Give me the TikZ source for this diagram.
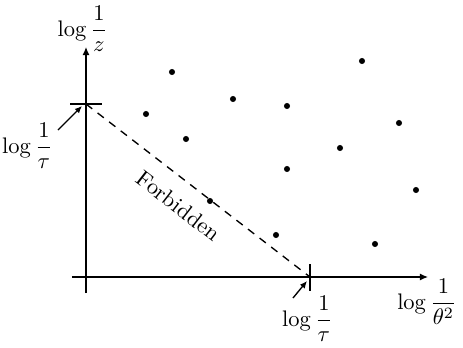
\documentclass[tikz,border=0pt]{standalone}
\usepackage{amsmath,amssymb}
\usepackage{tikz}
\usetikzlibrary{arrows.meta,positioning,calc}

\begin{document}
\begin{tikzpicture}[
  x=0.4445pt, y=0.4445pt,
  axis/.style={-{Latex[length=3.6pt,width=3.2pt]}, line width=0.6pt},
  pointer/.style={-{Latex[length=3.2pt,width=2.8pt]}, line width=0.6pt},
  tick/.style={line width=0.6pt},
  border/.style={dash pattern=on 3.5pt off 3pt, line width=0.6pt},
  pt/.style={circle, fill, inner sep=0pt, minimum size=2.7pt}
]
\useasboundingbox (-86,-70) rectangle (377,277);

% axes
\coordinate (origin) at (0,0);
\coordinate (ytop) at (0,230);
\coordinate (ybot) at (0,-16);
\coordinate (xleft) at (-14,0);
\coordinate (xright) at (342,0);
\draw[axis] (ybot) -- (ytop);
\draw[axis] (xleft) -- (xright);

% ticks at log 1/tau
\coordinate (tauy) at (0,173);
\coordinate (taux) at (224,0);
\draw[tick] ([xshift=-7]tauy) -- ([xshift=7]tauy);
\draw[tick] ([yshift=-6]taux) -- ([yshift=6]taux);

% forbidden region border
\draw[border] (tauy) -- node[pos=0.48, sloped, below=3.5pt] (forb) {Forbidden} (taux);

% axis labels
\node (zlab) at (-3.5,248) {$\log\dfrac{1}{z}$};
\node (thetalab) at (341,-25) {$\log\dfrac{1}{\theta^2}$};
\node (tauylab) at (-58.5,131) {$\log\dfrac{1}{\tau}$};
\node (tauxlab) at (221.5,-42) {$\log\dfrac{1}{\tau}$};
\coordinate (tauyfrom) at (-28,147);
\coordinate (tauxfrom) at (207,-21);
\draw[pointer] (tauyfrom) -- ([shift={(-4,-2)}]tauy);
\draw[pointer] (tauxfrom) -- ([shift={(-3,-4)}]taux);

% sample points
\foreach \px/\py [count=\i] in {86/205, 276/216, 147/178, 201/171, 60/163, 313/154, 100/138,
  254/129, 201/108, 330/87, 124/76, 190/42, 289/33}
  \node[pt] (p\i) at (\px,\py) {};
\end{tikzpicture}
\end{document}
